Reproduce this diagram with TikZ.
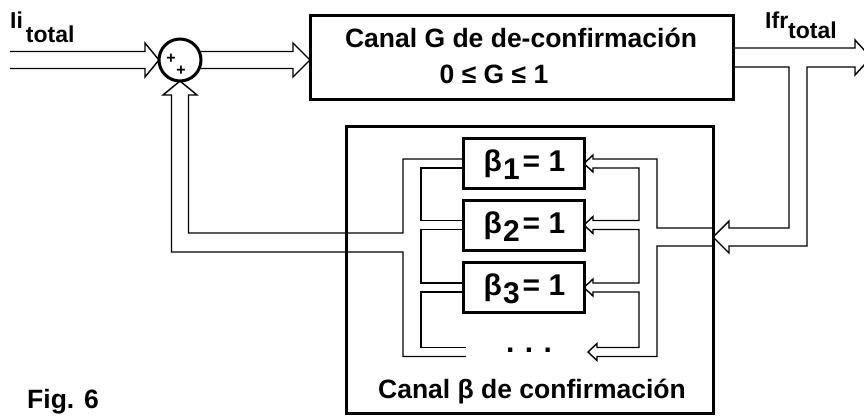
\documentclass[tikz,border=0pt]{standalone}
\usepackage{fontspec}
\setmainfont{Liberation Sans}
\usetikzlibrary{calc,backgrounds}
\begin{document}
\begin{tikzpicture}[x=1pt,y=-1pt,
  pipe/.style={line width=1.4pt, line join=miter},
  blk/.style={draw, line width=3pt, fill=white, inner sep=0pt, outer sep=0pt},
  lbl/.style={font=\fontsize{26.5}{30}\selectfont\bfseries, inner sep=0pt},
  sml/.style={font=\fontsize{23}{26}\selectfont\bfseries, inner sep=0pt},
  blbl/.style={font=\fontsize{30}{33}\selectfont\bfseries, inner sep=0pt},
  plus/.style={font=\fontsize{16}{16}\selectfont\bfseries, inner sep=0pt}]
\useasboundingbox (0,0) rectangle (864,416);

% blocks
\node[blk, rectangle, minimum width=423pt, minimum height=84pt] (G) at (521.5,57) {};
\node[draw, line width=3pt, minimum width=367pt, minimum height=287pt, inner sep=0pt, outer sep=0pt] (B) at (529.5,269.5) {};
\node[blk, circle, minimum size=42pt] (sum) at (180,60) {};
\node[blk, minimum width=121pt, minimum height=50pt] (b1) at (523.5,163.5) {};
\node[blk, minimum width=121pt, minimum height=50pt] (b2) at (523.5,225) {};
\node[blk, minimum width=121pt, minimum height=50pt] (b3) at (523.5,287.5) {};

% texts
\node[plus] (p1) at (171,59) {+};
\node[plus] (p2) at (181,71) {+};
\node[lbl, anchor=base] (Gt1) at (521,47) {Canal G de de-confirmación};
\node[lbl, anchor=base] (Gt2) at (494,83) {0 ≤ G ≤ 1};
\node[sml, anchor=base west] (Ii) at (10,28) {Ii\hspace{3pt}\raisebox{-14pt}{total}};
\node[sml, anchor=base west] (Ifr) at (765,28) {Ifr\raisebox{-10pt}{total}};
\node[blbl, anchor=base] (t1) at ($(b1.center)+(1,8)$) {β\hspace{1pt}\raisebox{-8pt}{1}\hspace{3pt}= 1};
\node[blbl, anchor=base] (t2) at ($(b2.center)+(1,8)$) {β\hspace{1pt}\raisebox{-8pt}{2}\hspace{3pt}= 1};
\node[blbl, anchor=base] (t3) at ($(b3.center)+(1,8)$) {β\hspace{1pt}\raisebox{-8pt}{3}\hspace{3pt}= 1};
\node[blbl, anchor=base] (dots) at (529,352) {.\hspace{10.5pt}.\hspace{10.5pt}.};
\node[lbl, anchor=base] (Bt) at (532,398) {Canal β de confirmación};
\node[lbl, anchor=base west] (fig) at (27,408) {Fig. 6};

\begin{pgfonlayer}{background}
\coordinate (in) at (10,60);
\coordinate (out) at (864,57.5);
% input to sum
\draw[pipe] ($(in)+(0,-8.5)$) -- (145,51.5) -- (145,43) -- (sum.west) -- (145,77) -- (145,68.5) -- ($(in)+(0,8.5)$);
% sum to G
\draw[pipe] (180,51.5) -- (293,51.5) -- (293,43) -- (G.west |- sum) -- (293,77) -- (293,68.5) -- (180,68.5);
% G output and feedback into B
\draw[pipe] (720,48) -- (855,48) -- (855,40) -- ($(out)+(7,0)$) -- (855,75) -- (855,67) -- (807,67) -- (807,246) -- (729,246) -- (729,253) -- (713,237) -- (729,221) -- (729,228) -- (789,228) -- (789,67) -- (720,67);
% distribution to beta blocks
\draw[pipe] (713,228) -- (657,228) -- (657,159) -- (593,159) -- (593,155) -- (b1.east) -- (593,172) -- (593,168) -- (639,168) -- (639,220.5) -- (593,220.5) -- (593,216.5) -- (b2.east) -- (593,233.5) -- (593,229.5) -- (639,229.5) -- (639,283) -- (593,283) -- (593,279) -- (b3.east) -- (593,296) -- (593,292) -- (639,292) -- (639,347.5) -- (597,347.5) -- (597,343.5) -- (588,352) -- (597,360.5) -- (597,356.5) -- (657,356.5) -- (657,246) -- (713,246);
% collection from beta blocks back to sum
\draw[pipe] (b1.center |- 0,159) -- (403,159) -- (403,233) -- (188.5,233) -- (188.5,95) -- (197,95) -- (sum.south) -- (163,95) -- (171.5,95) -- (171.5,252) -- (403,252) -- (403,356.5) -- (466,356.5);
\draw[pipe] (b1.center |- 0,168) -- (421,168) -- (421,220.5) -- (b2.center |- 0,220.5);
\draw[pipe] (b2.center |- 0,229.5) -- (421,229.5) -- (421,283) -- (b3.center |- 0,283);
\draw[pipe] (b3.center |- 0,292) -- (421,292) -- (421,347.5) -- (466,347.5);
\end{pgfonlayer}
\end{tikzpicture}
\end{document}
